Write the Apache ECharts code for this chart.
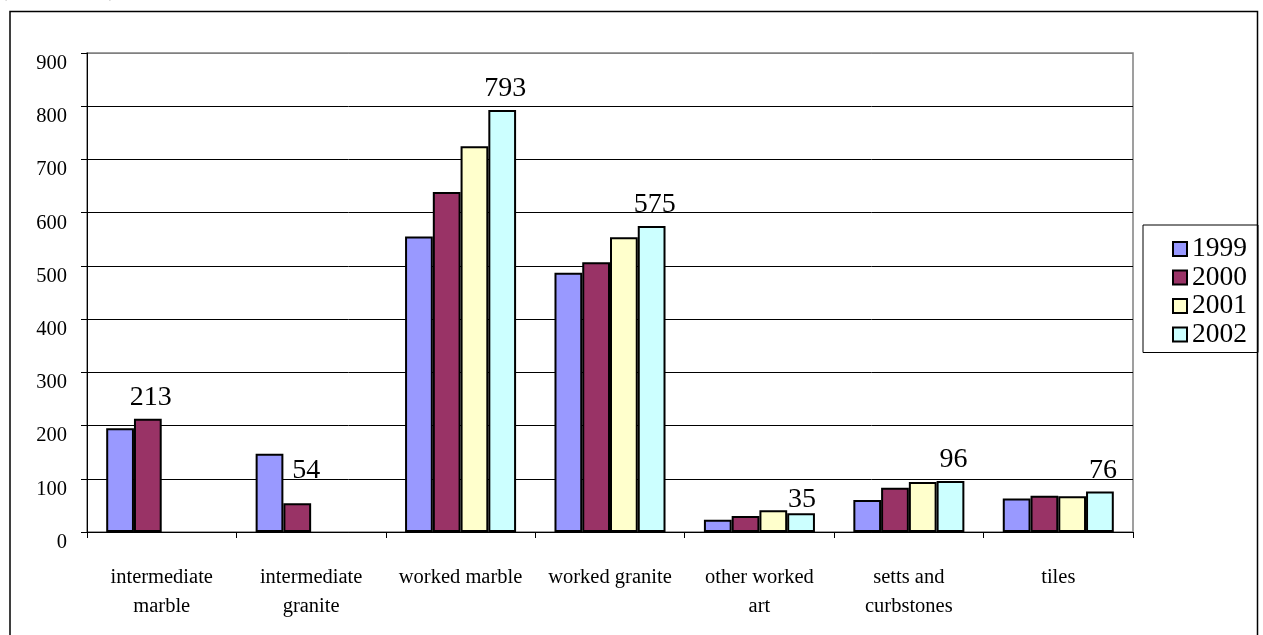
<!DOCTYPE html>
<html>
<head>
<meta charset="utf-8">
<title>Stone exports by product</title>
<script src="https://cdn.jsdelivr.net/npm/echarts@6/dist/echarts.min.js"></script>
<style>
  html, body { margin: 0; padding: 0; background: #ffffff; }
  #chart { width: 1263px; height: 635px; }
</style>
</head>
<body>
<div id="chart"></div>
<script>
// Product categories along the x axis
const categories = [
  'intermediate\nmarble',
  'intermediate\ngranite',
  'worked marble',
  'worked granite',
  'other worked\nart',
  'setts and\ncurbstones',
  'tiles'
];

// One series per year
const years = ['1999', '2000', '2001', '2002'];
const v1999 = [195, 147, 555, 487, 23, 60, 63];
const v2000 = [213, 54, 639, 507, 30, 83, 68];
const v2001 = [null, null, 725, 554, 41, 94, 67];
const v2002 = [null, null, 793, 575, 35, 96, 76];
const yearValues = [v1999, v2000, v2001, v2002];

// Value axis ticks
const yMin = 0, yMax = 900, yStep = 100;

const colors = ['#9999FF', '#993366', '#FFFFCC', '#CCFFFF'];
const serif = "'Liberation Serif', 'Times New Roman', serif";

// Label nudges for a couple of crowded categories
const labelNudge = { 1: [9, -12], 4: [1, 7] };

// The value label sits on the last year that has data in each category
const lastYearIdx = categories.map((c, ci) => {
  let idx = -1;
  yearValues.forEach((arr, si) => { if (arr[ci] != null) idx = si; });
  return idx;
});

const series = years.map((y, si) => ({
  name: y,
  type: 'bar',
  barGap: '0%',
  barCategoryGap: '25.7%',
  itemStyle: { color: colors[si], borderColor: '#000', borderWidth: 2 },
  emphasis: { disabled: true },
  data: yearValues[si].map((v, ci) => {
    const item = { value: v };
    if (lastYearIdx[ci] === si) {
      item.label = {
        show: true,
        position: 'top',
        distance: 7,
        offset: labelNudge[ci] || [3, 0],
        fontFamily: serif,
        fontSize: 28,
        color: '#000'
      };
    }
    return item;
  })
}));

// Split line colours: inner lines black, the top edge grey like the frame
const splitColors = [];
for (let v = yMin; v <= yMax; v += yStep) splitColors.push(v === yMax ? '#808080' : '#000');

const chart = echarts.init(document.getElementById('chart'), null, { renderer: 'canvas' });
chart.setOption({
  animation: false,
  backgroundColor: '#ffffff',
  grid: {
    left: 87, right: 130, top: 53, bottom: 103,
    show: true, borderColor: '#808080', borderWidth: 1.5, backgroundColor: 'transparent'
  },
  legend: {
    data: years,
    orient: 'vertical',
    left: 1143,
    top: 225,
    padding: [10, 11, 4, 29],
    itemGap: 0.5,
    itemWidth: 14,
    itemHeight: 14,
    icon: 'rect',
    borderColor: '#000',
    borderWidth: 1,
    backgroundColor: '#fff',
    textStyle: { fontFamily: serif, fontSize: 27.5, color: '#000', lineHeight: 28 },
    selectedMode: false
  },
  xAxis: {
    type: 'category',
    data: categories,
    boundaryGap: true,
    axisLine: { lineStyle: { color: '#000', width: 1 } },
    axisTick: { show: true, alignWithLabel: false, length: 6, lineStyle: { color: '#000' } },
    axisLabel: {
      interval: 0,
      margin: 31,
      fontFamily: serif,
      fontSize: 20.5,
      lineHeight: 29,
      color: '#000'
    },
    splitLine: { show: false }
  },
  yAxis: {
    type: 'value',
    min: yMin,
    max: yMax,
    interval: yStep,
    axisLine: { show: true, lineStyle: { color: '#000', width: 1 } },
    axisTick: { show: true, length: 6, lineStyle: { color: '#000' } },
    axisLabel: {
      margin: 20,
      fontFamily: serif,
      fontSize: 20.5,
      lineHeight: 21,
      verticalAlign: 'top',
      color: '#000'
    },
    splitLine: { show: true, lineStyle: { color: splitColors, width: 1 } }
  },
  graphic: [
    {
      type: 'rect',
      silent: true,
      shape: { x: 10, y: 11.5, width: 1247.5, height: 700 },
      style: { fill: 'transparent', stroke: '#000', lineWidth: 1.5 },
      z: 100
    },
    {
      type: 'text',
      silent: true,
      left: 0,
      top: -20,
      style: { text: '(1000 tonnes)', fontFamily: serif, fontSize: 21, fill: '#000' }
    }
  ],
  series: series
});
</script>
</body>
</html>
